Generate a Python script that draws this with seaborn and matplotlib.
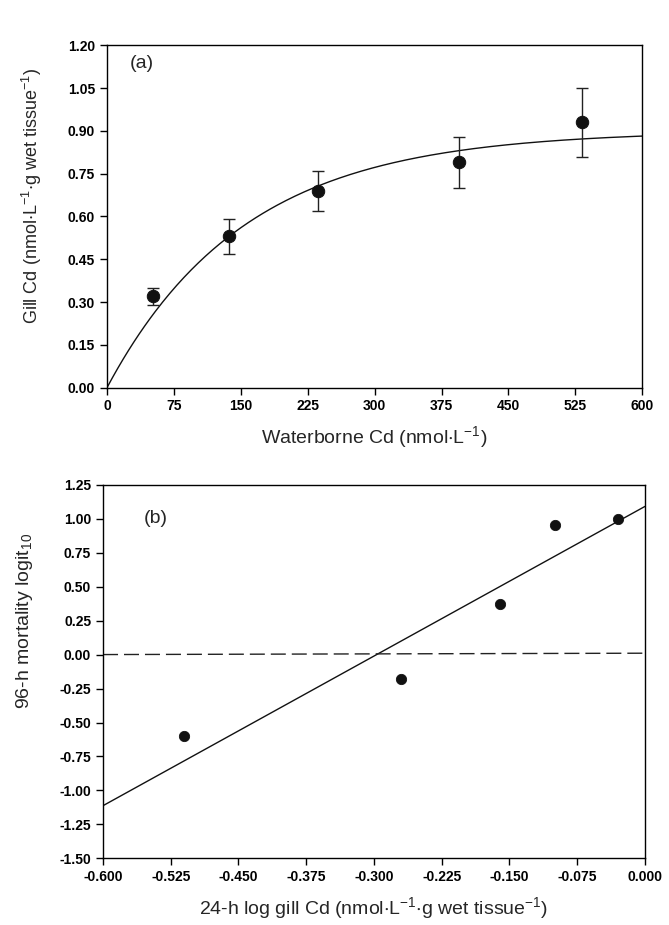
import numpy as np
import pandas as pd
import seaborn as sns
import matplotlib.pyplot as plt
from matplotlib.ticker import MultipleLocator, FormatStrFormatter

# panel (a): gill Cd vs waterborne Cd
water_cd = [52, 137, 237, 395, 532]
gill_cd = [0.32, 0.53, 0.69, 0.79, 0.93]
gill_err = [0.03, 0.06, 0.07, 0.09, 0.12]
# fitted saturation curve: Bmax * (1 - exp(-k x))
fit_bmax = 0.90
fit_k = 0.0065

# panel (b): mortality logit vs log gill Cd
log_gill = [-0.51, -0.27, -0.16, -0.10, -0.03]
logit_mort = [-0.60, -0.18, 0.37, 0.95, 1.00]
reg_slope = 3.67
reg_intercept = 1.09

sns.set_style("ticks")
plt.rcParams['font.family'] = ['Liberation Sans', 'DejaVu Sans']
plt.rcParams['mathtext.fontset'] = 'custom'
plt.rcParams['mathtext.rm'] = 'Liberation Sans'
plt.rcParams['mathtext.it'] = 'Liberation Sans'
plt.rcParams['mathtext.default'] = 'regular'

fig = plt.figure(figsize=(6.69, 9.25), dpi=100)
ax1 = fig.add_axes([0.160, 0.581, 0.800, 0.370])
ax2 = fig.add_axes([0.154, 0.072, 0.810, 0.404])

# ---- panel a
df_a = pd.DataFrame({'x': water_cd, 'y': gill_cd})
xs = np.linspace(0, 600, 300)
curve = pd.DataFrame({'x': xs, 'y': fit_bmax * (1 - np.exp(-fit_k * xs))})
sns.lineplot(data=curve, x='x', y='y', ax=ax1, color='#111111', lw=1.0)
ax1.errorbar(water_cd, gill_cd, yerr=gill_err, fmt='none', ecolor='#222222',
             elinewidth=1.0, capsize=4, capthick=1.0, zorder=2)
sns.scatterplot(data=df_a, x='x', y='y', ax=ax1, color='#111111', s=80,
                edgecolor='#111111', zorder=3)
ax1.set_xlim(0, 600)
ax1.set_ylim(0, 1.2)
ax1.xaxis.set_major_locator(MultipleLocator(75))
ax1.yaxis.set_major_locator(MultipleLocator(0.15))
ax1.yaxis.set_major_formatter(FormatStrFormatter('%.2f'))
ax1.set_xlabel(r'Waterborne Cd (nmol$\cdot$L$^{-1}$)', fontsize=14, labelpad=8)
ax1.set_ylabel(r'Gill Cd (nmol$\cdot$L$^{-1}$$\cdot$g wet tissue$^{-1}$)', fontsize=13)
ax1.yaxis.set_label_coords(-0.118, 0.56)
ax1.text(25, 1.135, '(a)', fontsize=14, ha='left', va='center')

# ---- panel b
df_b = pd.DataFrame({'x': log_gill, 'y': logit_mort})
xl = np.array([-0.6, 0.0])
reg = pd.DataFrame({'x': xl, 'y': reg_slope * xl + reg_intercept})
sns.lineplot(data=reg, x='x', y='y', ax=ax2, color='#111111', lw=1.0)
ax2.plot(xl, [0.0, 0.01], color='#222222', lw=1.0, dashes=(10.8, 4.3))
sns.scatterplot(data=df_b, x='x', y='y', ax=ax2, color='#111111', s=55,
                edgecolor='#111111', zorder=3)
ax2.set_xlim(-0.6, 0.0)
ax2.set_ylim(-1.5, 1.25)
ax2.xaxis.set_major_locator(MultipleLocator(0.075))
ax2.xaxis.set_major_formatter(FormatStrFormatter('%.3f'))
ax2.yaxis.set_major_locator(MultipleLocator(0.25))
ax2.yaxis.set_major_formatter(FormatStrFormatter('%.2f'))
ax2.set_xlabel(r'24-h log gill Cd (nmol$\cdot$L$^{-1}$$\cdot$g wet tissue$^{-1}$)', fontsize=14, labelpad=8)
ax2.set_ylabel(r'96-h mortality logit$_{10}$', fontsize=14)
ax2.yaxis.set_label_coords(-0.125, 0.635)
ax2.text(-0.555, 1.0, '(b)', fontsize=14, ha='left', va='center')

for ax in (ax1, ax2):
    for sp in ax.spines.values():
        sp.set_visible(True)
        sp.set_linewidth(1.0)
        sp.set_color('black')
    ax.tick_params(axis='both', direction='out', length=5, width=1.0,
                   top=False, right=False, colors='black')
    for lab in ax.get_xticklabels() + ax.get_yticklabels():
        lab.set_fontfamily(['Liberation Sans', 'DejaVu Sans'])
        lab.set_fontweight('bold')
        lab.set_fontsize(10)

fig.savefig('out.png', dpi=100, facecolor='white')
